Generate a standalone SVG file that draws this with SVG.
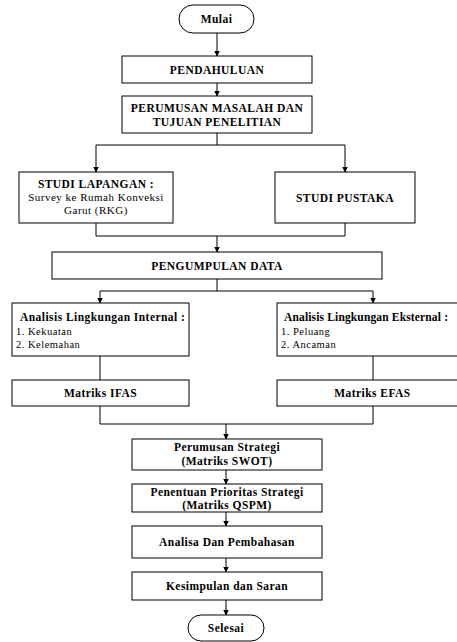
<svg xmlns="http://www.w3.org/2000/svg" width="457" height="642" viewBox="0 0 457 642">
<defs>
<marker id="ah" markerWidth="6" markerHeight="7" refX="5.5" refY="3.5" orient="auto" markerUnits="userSpaceOnUse">
<path d="M0,0.5 L6,3.5 L0,6.5 Z" fill="#000"/>
</marker>
<style>
.box{fill:#fff;stroke:#000;stroke-width:1}
.ln{fill:none;stroke:#000;stroke-width:1}
.b{font-family:"Liberation Serif","Times New Roman",serif;font-weight:bold;font-size:11.5px;fill:#000;letter-spacing:0.45px}
.r{font-family:"Liberation Serif","Times New Roman",serif;font-size:11px;fill:#000;letter-spacing:0.5px}
.s{font-size:10.5px}
.c{text-anchor:middle}
</style>
</defs>
<rect width="457" height="642" fill="#fff"/>
<g id="connectors">
<path class="ln" d="M217,33 V56" marker-end="url(#ah)"/>
<path class="ln" d="M217,83 V96" marker-end="url(#ah)"/>
<path class="ln" d="M217,133 V145 M96,145 H345"/>
<path class="ln" d="M96,145 V172" marker-end="url(#ah)"/>
<path class="ln" d="M345,145 V172" marker-end="url(#ah)"/>
<path class="ln" d="M96,223 V236 H345 V223"/>
<path class="ln" d="M217,236 V252" marker-end="url(#ah)"/>
<path class="ln" d="M217,279 V291 M100,291 H373"/>
<path class="ln" d="M100,291 V303" marker-end="url(#ah)"/>
<path class="ln" d="M373,291 V303" marker-end="url(#ah)"/>
<path class="ln" d="M100,356 V380 M373,356 V380"/>
<path class="ln" d="M100,406 V424 H373 V406"/>
<path class="ln" d="M226,424 V439" marker-end="url(#ah)"/>
<path class="ln" d="M226,470 V484" marker-end="url(#ah)"/>
<path class="ln" d="M226,512 V526" marker-end="url(#ah)"/>
<path class="ln" d="M226,558 V572" marker-end="url(#ah)"/>
<path class="ln" d="M226,600 V615" marker-end="url(#ah)"/>
</g>
<g id="mulai">
<rect class="box" x="179" y="5" width="75" height="28" rx="14" ry="14"/>
<text class="b c" x="216.5" y="23">Mulai</text>
</g>
<g id="pendahuluan">
<rect class="box" x="122" y="56" width="190" height="27"/>
<text class="b c" x="217" y="73.5">PENDAHULUAN</text>
</g>
<g id="perumusan-masalah">
<rect class="box" x="122" y="96" width="190" height="37"/>
<text class="b c" x="217" y="112">PERUMUSAN MASALAH DAN</text>
<text class="b c" x="217" y="126">TUJUAN PENELITIAN</text>
</g>
<g id="studi-lapangan">
<rect class="box" x="19" y="172" width="154" height="51"/>
<text class="b c" x="96" y="187.5">STUDI LAPANGAN :</text>
<text class="r c" x="96" y="200.5">Survey ke Rumah Konveksi</text>
<text class="r c" x="96" y="213.5">Garut (RKG)</text>
</g>
<g id="studi-pustaka">
<rect class="box" x="275" y="172" width="140" height="51"/>
<text class="b c" x="345" y="202">STUDI PUSTAKA</text>
</g>
<g id="pengumpulan-data">
<rect class="box" x="52" y="252" width="330" height="27"/>
<text class="b c" x="217" y="269.5">PENGUMPULAN DATA</text>
</g>
<g id="analisis-internal">
<rect class="box" x="12" y="303" width="177" height="53"/>
<text class="b" x="20" y="321">Analisis Lingkungan Internal :</text>
<text class="r s" x="16" y="335">1. Kekuatan</text>
<text class="r s" x="16" y="347.5">2. Kelemahan</text>
</g>
<g id="analisis-eksternal">
<rect class="box" x="277" y="303" width="190" height="53"/>
<text class="b" x="284" y="321" style="letter-spacing:0.15px">Analisis Lingkungan Eksternal :</text>
<text class="r s" x="281" y="335">1. Peluang</text>
<text class="r s" x="281" y="347.5">2. Ancaman</text>
</g>
<g id="matriks-ifas">
<rect class="box" x="12" y="380" width="177" height="26"/>
<text class="b c" x="100.5" y="397">Matriks IFAS</text>
</g>
<g id="matriks-efas">
<rect class="box" x="277" y="380" width="190" height="26"/>
<text class="b c" x="372.5" y="397">Matriks EFAS</text>
</g>
<g id="perumusan-strategi">
<rect class="box" x="132" y="439" width="190" height="31"/>
<text class="b c" x="227" y="451">Perumusan Strategi</text>
<text class="b c" x="227" y="465">(Matriks SWOT)</text>
</g>
<g id="penentuan-prioritas">
<rect class="box" x="132" y="484" width="190" height="28"/>
<text class="b c" x="227" y="496">Penentuan Prioritas Strategi</text>
<text class="b c" x="227" y="509">(Matriks QSPM)</text>
</g>
<g id="analisa">
<rect class="box" x="132" y="526" width="190" height="32"/>
<text class="b c" x="227" y="546">Analisa Dan Pembahasan</text>
</g>
<g id="kesimpulan">
<rect class="box" x="132" y="572" width="190" height="28"/>
<text class="b c" x="227" y="590">Kesimpulan dan Saran</text>
</g>
<g id="selesai">
<rect class="box" x="188" y="615" width="76" height="26" rx="13" ry="13"/>
<text class="b c" x="226" y="632">Selesai</text>
</g>
</svg>
